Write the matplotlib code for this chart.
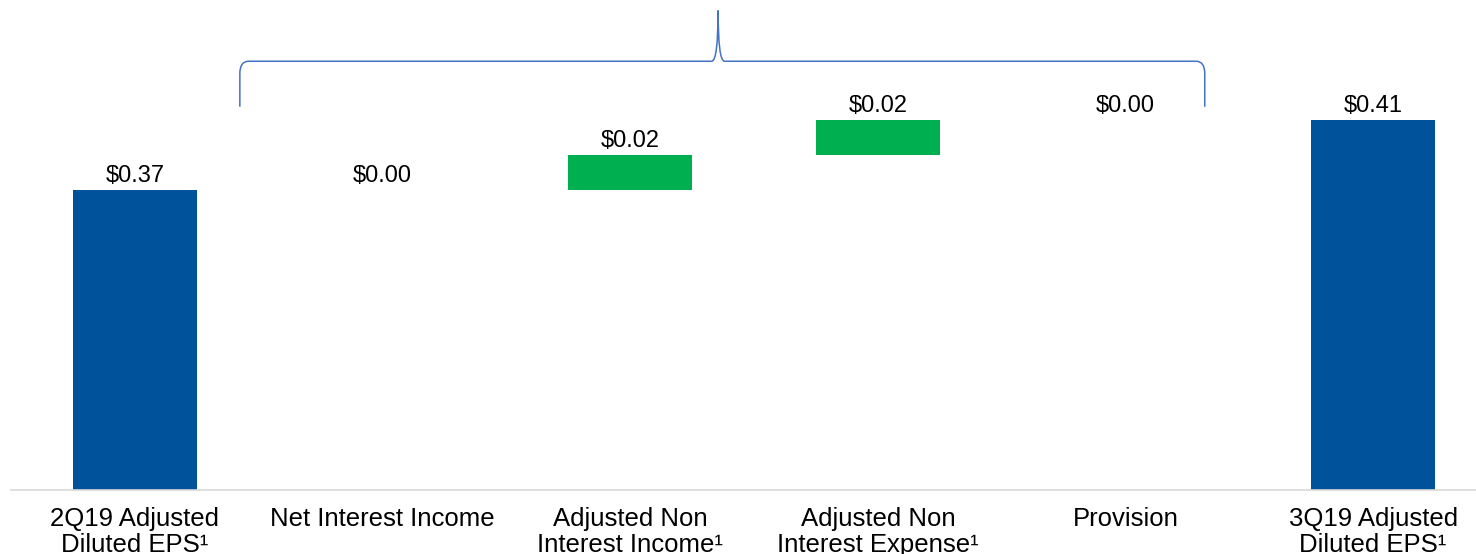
import matplotlib.pyplot as plt
from matplotlib.path import Path
from matplotlib.patches import PathPatch
import numpy as np

plt.rcParams['font.family'] = ['Liberation Sans', 'DejaVu Sans']

# --- Data ---
categories = ['2Q19 Adjusted\nDiluted EPS\u00b9', 'Net Interest Income',
              'Adjusted Non\nInterest Income\u00b9', 'Adjusted Non\nInterest Expense\u00b9',
              'Provision', '3Q19 Adjusted\nDiluted EPS\u00b9']
start_eps = 0.37
changes = [0.00, 0.02, 0.02, 0.00]
end_eps = 0.41

BLUE = '#00529B'
GREEN = '#00B050'
AXIS_MIN = 0.1985

# --- Waterfall geometry ---
levels = start_eps + np.cumsum([0.0] + changes)
heights = [start_eps - AXIS_MIN] + changes + [end_eps - AXIS_MIN]
bottoms = [AXIS_MIN] + list(levels[:-1]) + [AXIS_MIN]
colors = [BLUE] + [GREEN] * len(changes) + [BLUE]
values = [start_eps] + changes + [end_eps]
x = np.arange(len(categories))

fig = plt.figure(figsize=(14.76, 5.54), dpi=100)
ax = fig.add_axes([11 / 1476, 64 / 554, 1486 / 1476, 490 / 554])

ax.bar(x, heights, bottom=bottoms, width=0.5, color=colors)

for xi, b, h, v in zip(x, bottoms, heights, values):
    ax.annotate(f'${v:.2f}', (xi, b + h), xytext=(0, 2), textcoords='offset points',
                ha='center', va='bottom', fontsize=17, color='black')

ax.set_xlim(-0.5, len(categories) - 0.5)
ax.set_ylim(AXIS_MIN, AXIS_MIN + 0.28)
ax.set_xticks(x)
ax.set_xticklabels(categories, fontsize=18.5, linespacing=1.12)
ax.tick_params(axis='x', length=0, pad=12)
ax.set_yticks([])
for side in ['top', 'right', 'left']:
    ax.spines[side].set_visible(False)
ax.spines['bottom'].set_color('#d9d9d9')
ax.spines['bottom'].set_linewidth(1.2)

# --- Brace over the drivers ---
x0, x1, xm = 0.424, 4.32, 2.355
yb, yh, yt = 0.4175, 0.4435, 0.4725
rx, ry, cx = 0.035, 0.007, 0.026
verts = [(x0, yb), (x0, yh - ry), (x0, yh), (x0 + rx, yh),
         (xm - cx, yh), (xm, yh), (xm, yt),
         (xm, yh), (xm + cx, yh),
         (x1 - rx, yh), (x1, yh), (x1, yh - ry), (x1, yb)]
codes = [Path.MOVETO, Path.LINETO, Path.CURVE3, Path.CURVE3,
         Path.LINETO, Path.CURVE3, Path.CURVE3,
         Path.CURVE3, Path.CURVE3,
         Path.LINETO, Path.CURVE3, Path.CURVE3, Path.LINETO]
ax.add_patch(PathPatch(Path(verts, codes), fill=False, edgecolor='#4472C4',
                       linewidth=1.1, clip_on=False))

fig.savefig('out.png', dpi=100)
